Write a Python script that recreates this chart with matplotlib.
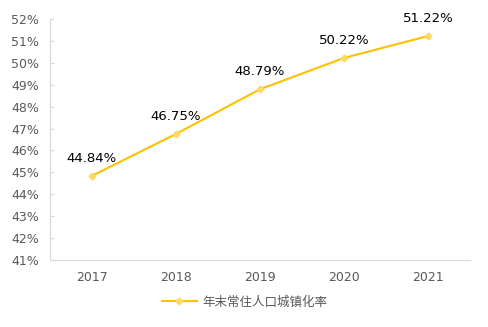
import matplotlib
matplotlib.use('Agg')
import matplotlib.pyplot as plt
from matplotlib.ticker import FuncFormatter

years = ['2017', '2018', '2019', '2020', '2021']
rates = [44.84, 46.75, 48.79, 50.22, 51.22]
series_name = '年末常住人口城镇化率'

plt.rcParams['font.family'] = ['DejaVu Sans', 'Noto Sans CJK SC']

fig = plt.figure(figsize=(4.89, 3.27), dpi=100)
ax = fig.add_axes([0.102, 0.205, 0.859, 0.737])

x = range(len(years))
ax.plot(x, rates, color='#FFC000', lw=1.5, marker='D', ms=3.5,
        markerfacecolor='#FFD966', markeredgecolor='#FFD966', label=series_name)

for xi, v in zip(x, rates):
    ax.annotate(f'{v:.2f}%', (xi, v), xytext=(0, 8), textcoords='offset points',
                ha='center', va='bottom', fontsize=9.5, color='black')

ax.set_xlim(-0.5, len(years) - 0.5)
ax.set_ylim(41, 52)
ax.set_yticks(range(41, 53))
ax.yaxis.set_major_formatter(FuncFormatter(lambda v, p: f'{v:.0f}%'))
ax.set_xticks(list(x))
ax.set_xticklabels(years)

for s in ['top', 'right']:
    ax.spines[s].set_visible(False)
for s in ['left', 'bottom']:
    ax.spines[s].set_color('#D9D9D9')
ax.tick_params(axis='y', direction='in', length=3, color='#D9D9D9',
               labelcolor='#595959', labelsize=9, pad=8)
ax.tick_params(axis='x', length=0, labelcolor='#595959', labelsize=9, pad=8)

fig.legend(loc='center', bbox_to_anchor=(0.5, 0.077), frameon=False,
           prop={'family': 'Noto Sans CJK SC', 'size': 9}, labelcolor='#595959',
           handlelength=2.8, handletextpad=0.4)

fig.savefig('out.png', dpi=100)
